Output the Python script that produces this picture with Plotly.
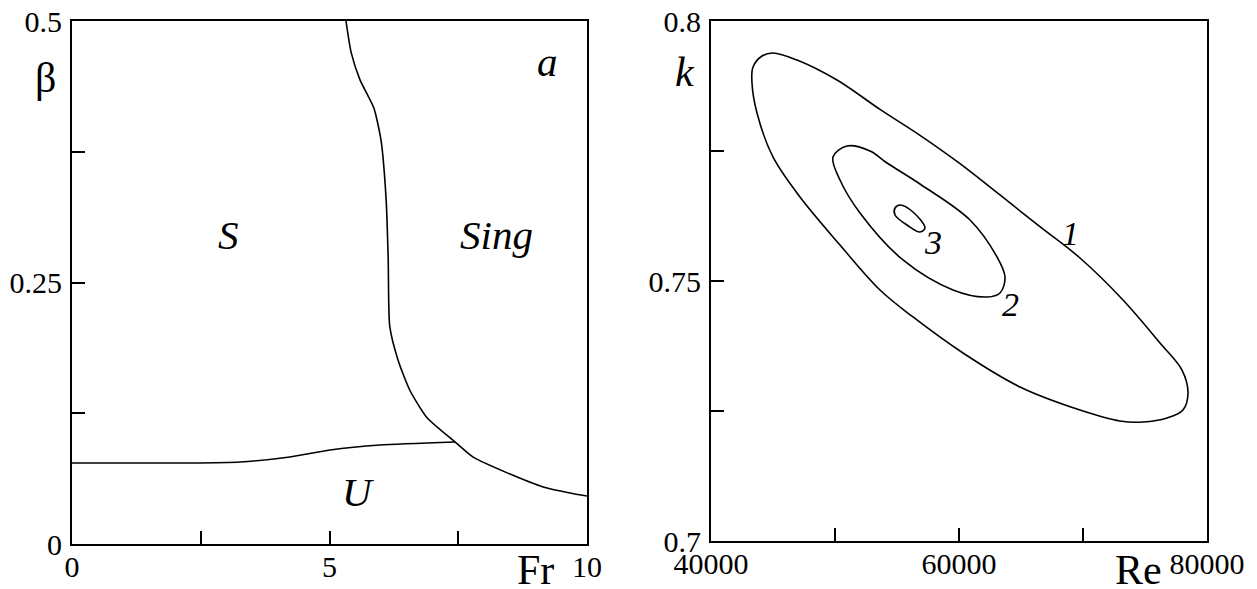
import plotly.graph_objects as go

# ---------------- data: panel a (Fr, beta) ----------------
fr_sing = [5.32, 5.42, 5.59, 5.86, 6.00, 6.10, 6.14, 6.17, 6.33, 6.56, 6.89, 7.44, 7.79, 8.45, 9.15, 9.67, 10.0]
beta_sing = [0.500, 0.470, 0.444, 0.417, 0.386, 0.329, 0.272, 0.208, 0.176, 0.147, 0.121, 0.0975, 0.083, 0.068, 0.0545, 0.0488, 0.0459]

fr_u = [0.0, 2.29, 3.26, 4.23, 5.01, 5.98, 7.44]
beta_u = [0.0774, 0.0774, 0.0784, 0.0832, 0.0899, 0.0946, 0.0975]

region_labels = ["S", "Sing", "U", "a"]
region_fr = [3.03, 8.25, 5.55, 9.24]
region_beta = [0.295, 0.295, 0.0497, 0.461]

fr_ticks = [0, 2.5, 5, 7.5, 10]
fr_ticktext = ["0", "", "5", "", "10"]
beta_ticks = [0, 0.125, 0.25, 0.375, 0.5]
beta_ticktext = ["0", "", "0.25", "", "0.5"]

# ---------------- data: right panel (Re, k) ----------------
re_1 = [43306, 43387, 44113, 45000, 46935, 50161, 53629, 56855, 60000, 63306, 66500, 69758, 73226, 76210, 77984,
        78468, 78065, 76774, 74839, 72984, 69758, 64919, 60323, 56290, 53629, 50403, 47177, 45000, 43710, 43306]
k_1 = [0.78808, 0.79115, 0.79327, 0.79385, 0.79250, 0.78865, 0.78300, 0.77800, 0.77270, 0.76654, 0.76050,
       0.75442, 0.74635, 0.73808, 0.73288, 0.72846, 0.72519, 0.72365, 0.72288, 0.72308, 0.72519, 0.72962,
       0.73615, 0.74308, 0.74827, 0.75692, 0.76615, 0.77385, 0.78231, 0.78808]

re_2 = [49839, 50968, 52823, 54194, 56855, 60887, 63065, 63710, 63306, 62258, 59516, 55484, 52016, 50403, 49839]
k_2 = [0.77385, 0.77596, 0.77500, 0.77269, 0.76865, 0.76173, 0.75462, 0.75077, 0.74769, 0.74692, 0.74827,
       0.75404, 0.76308, 0.76942, 0.77385]

re_3 = [54839, 55242, 56290, 57258, 56855, 55806, 54839, 54839]
k_3 = [0.76404, 0.76462, 0.76327, 0.76019, 0.75942, 0.76077, 0.76269, 0.76404]

curve_labels = ["1", "2", "3"]
curve_re = [68952, 64113, 57903]
curve_k = [0.7592, 0.7454, 0.7575]

re_ticks = [40000, 50000, 60000, 70000, 80000]
re_ticktext = ["40000", "", "60000", "", "80000"]
k_ticks = [0.7, 0.725, 0.75, 0.775, 0.8]
k_ticktext = ["0.7", "", "0.75", "", "0.8"]

# ---------------- figure ----------------
W, H = 1257, 589
FONT = "Liberation Serif"
LINE = dict(color="black", width=1.6)

fig = go.Figure()
fig.add_trace(go.Scatter(x=fr_sing, y=beta_sing, mode="lines", line=dict(**LINE, shape="spline", smoothing=0.6),
                         xaxis="x", yaxis="y", hoverinfo="skip"))
fig.add_trace(go.Scatter(x=fr_u, y=beta_u, mode="lines", line=dict(**LINE, shape="spline", smoothing=0.6),
                         xaxis="x", yaxis="y", hoverinfo="skip"))
for xs, ys in [(re_1, k_1), (re_2, k_2), (re_3, k_3)]:
    fig.add_trace(go.Scatter(x=xs, y=ys, mode="lines", line=dict(**LINE, shape="spline", smoothing=1.0),
                             xaxis="x2", yaxis="y2", hoverinfo="skip"))

ann = []
for t, x, y in zip(region_labels, region_fr, region_beta):
    ann.append(dict(text=f"<i>{t}</i>", x=x, y=y, xref="x", yref="y", showarrow=False,
                    font=dict(family=FONT, size=41, color="black")))
for t, x, y in zip(curve_labels, curve_re, curve_k):
    ann.append(dict(text=f"<i>{t}</i>", x=x, y=y, xref="x2", yref="y2", showarrow=False,
                    font=dict(family=FONT, size=34, color="black")))

# axis titles placed in pixel positions (converted to paper)
def px(xp, yp):
    return xp / W, 1 - yp / H

for text, (xp, yp), italic in [("Fr", (535, 570), False), ("β", (45, 78), False),
                               ("Re", (1138, 570), False), ("k", (685, 72), True)]:
    x, y = px(xp, yp)
    ann.append(dict(text=f"<i>{text}</i>" if italic else text, x=x, y=y, xref="paper", yref="paper",
                    showarrow=False, xanchor="center", yanchor="middle",
                    font=dict(family=FONT, size=42, color="black")))

axis_common = dict(showline=True, linecolor="black", linewidth=2, mirror=True, ticks="inside",
                   ticklen=13, tickwidth=1.6, tickcolor="black", showgrid=False, zeroline=False,
                   automargin=False, tickfont=dict(family=FONT, size=30, color="black"))

fig.update_layout(
    width=W, height=H, template="none",
    font=dict(family=FONT, color="black"),
    paper_bgcolor="white", plot_bgcolor="white", showlegend=False,
    margin=dict(l=0, r=0, t=0, b=0),
    xaxis=dict(domain=[72 / W, 587 / W], range=[0, 10], tickvals=fr_ticks, ticktext=fr_ticktext,
               anchor="y", ticklabelstandoff=-5, **axis_common),
    yaxis=dict(domain=[1 - 544 / H, 1 - 21 / H], range=[0, 0.5], tickvals=beta_ticks, ticktext=beta_ticktext,
               anchor="x", ticklabelstandoff=2, **axis_common),
    xaxis2=dict(domain=[711 / W, 1207 / W], range=[40000, 80000], tickvals=re_ticks, ticktext=re_ticktext,
                anchor="y2", ticklabelstandoff=-5, **axis_common),
    yaxis2=dict(domain=[1 - 541 / H, 1 - 21 / H], range=[0.7, 0.8], tickvals=k_ticks, ticktext=k_ticktext,
                anchor="x2", ticklabelstandoff=2, **axis_common),
    annotations=ann,
)

fig.write_html("out.html", config={"displayModeBar": False},
               post_script="document.body.style.margin='0px';document.body.style.overflow='hidden';")
